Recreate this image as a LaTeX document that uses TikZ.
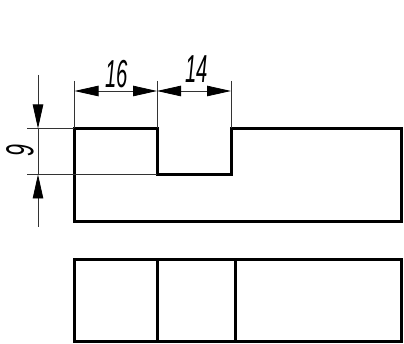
\documentclass[tikz,border=0pt]{standalone}
\usepackage{fontspec}
\setmainfont{Liberation Sans}
\usetikzlibrary{arrows.meta}
\tikzset{
  outline/.style={line width=3pt,line join=miter,line cap=rect},
  thinline/.style={line width=0.8pt,black!80},
  dimarrow/.style={thinline,-{Triangle[length=24pt,width=10.5pt,color=black]}},
  dimboth/.style={thinline,{Triangle[length=24pt,width=10.5pt,color=black]}-{Triangle[length=24pt,width=10.5pt,color=black]}},
  dimtext/.style={inner sep=0pt,font=\fontsize{39}{39}\itshape}
}
\begin{document}
\begin{tikzpicture}[x=1pt,y=-1pt]
\useasboundingbox (0,0) rectangle (404,344);
\fill[white] (0,0) rectangle (404,344);
% upper view
\draw[outline] (74,128.5) -- (157,128.5) -- (157,174.5) -- (231,174.5) -- (231,128.5) -- (401,128.5) -- (401,221.5) -- (74,221.5) -- cycle;
% lower view
\draw[outline] (74,259.5) rectangle (401,342);
\draw[outline] (157,259.5) -- (157,342);
\draw[outline] (235.5,259.5) -- (235.5,342);
% extension lines
\draw[thinline] (74,81) -- (74,128.5);
\draw[thinline] (157,81) -- (157,128.5);
\draw[thinline] (231,81) -- (231,128.5);
\draw[thinline] (27,128.5) -- (74,128.5);
\draw[thinline] (27,174.5) -- (157,174.5);
% horizontal dimensions
\draw[dimboth] (74.5,91) -- (157,91);
\draw[dimboth] (157,91) -- (231,91);
% vertical dimension
\draw[dimarrow] (38,75) -- (38,128.5);
\draw[thinline] (38,128.5) -- (38,174.5);
\draw[dimarrow] (38,227) -- (38,174.5);
% labels
\node[dimtext,xscale=0.52] (a) at (117,74) {16};
\node[dimtext,xscale=0.52] (b) at (197,69) {14};
\node[dimtext,rotate=90,xscale=0.55] (c) at (20,151) {9};
\end{tikzpicture}
\end{document}
